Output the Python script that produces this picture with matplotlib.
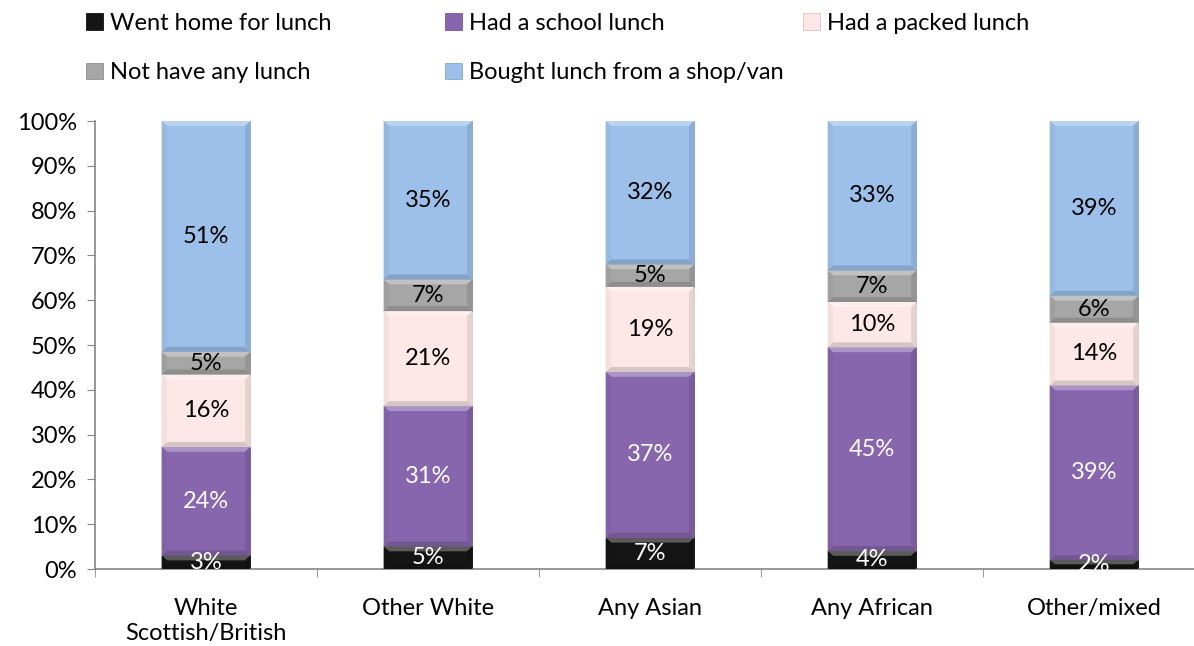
import matplotlib.pyplot as plt
import matplotlib.colors as mcolors
from matplotlib.patches import Polygon
import numpy as np

plt.rcParams['font.family'] = ['Lato', 'DejaVu Sans']

groups = ['White\nScottish/British', 'Other White', 'Any Asian', 'Any African', 'Other/mixed']
series = ['Went home for lunch', 'Had a school lunch', 'Had a packed lunch',
          'Not have any lunch', 'Bought lunch from a shop/van']
went_home = [3, 5, 7, 4, 2]
school = [24, 31, 37, 45, 39]
packed = [16, 21, 19, 10, 14]
no_lunch = [5, 7, 5, 7, 6]
shop = [51, 35, 32, 33, 39]

colors = ['#151515', '#8766ad', '#fde8e7', '#a6a6a6', '#9cc0ea']
text_colors = ['white', 'white', 'black', 'black', 'black']

data = np.array([went_home, school, packed, no_lunch, shop], dtype=float)
shares = data / data.sum(axis=0) * 100  # 100% stacked

fig = plt.figure(figsize=(11.94, 6.46), dpi=100)
ax = fig.add_axes([95 / 1194, 77 / 646, 1099 / 1194, 448 / 646])

x = np.arange(len(groups))
width = 0.4
bev_x = 0.024
bev_y = 1.1


def shade(c, f):
    r = np.array(mcolors.to_rgb(c))
    if f > 0:
        return tuple(r + (1 - r) * f)
    return tuple(r * (1 + f))


bottom = np.zeros(len(groups))
handles = []
for i in range(len(series)):
    bars = ax.bar(x, shares[i], width, bottom=bottom, color=colors[i],
                  edgecolor=shade(colors[i], -0.15), linewidth=0.6,
                  label=series[i], zorder=2)
    handles.append(bars)
    for j in range(len(groups)):
        x0, x1 = x[j] - width / 2, x[j] + width / 2
        y0, y1 = bottom[j], bottom[j] + shares[i][j]
        by = min(bev_y, (y1 - y0) / 2)
        bx = bev_x
        top = [(x0, y1), (x1, y1), (x1 - bx, y1 - by), (x0 + bx, y1 - by)]
        bot = [(x0, y0), (x1, y0), (x1 - bx, y0 + by), (x0 + bx, y0 + by)]
        left = [(x0, y0), (x0, y1), (x0 + bx, y1 - by), (x0 + bx, y0 + by)]
        right = [(x1, y0), (x1, y1), (x1 - bx, y1 - by), (x1 - bx, y0 + by)]
        ax.add_patch(Polygon(top, closed=True, color=shade(colors[i], 0.3), lw=0, zorder=3))
        ax.add_patch(Polygon(bot, closed=True, color=shade(colors[i], -0.15), lw=0, zorder=3))
        ax.add_patch(Polygon(left, closed=True, color=shade(colors[i], -0.04), lw=0, zorder=3))
        ax.add_patch(Polygon(right, closed=True, color=shade(colors[i], -0.1), lw=0, zorder=3))
        ax.text(x[j], (y0 + y1) / 2, '%d%%' % data[i][j], ha='center', va='center',
                fontsize=17, color=text_colors[i], zorder=5)
    bottom += shares[i]

ax.set_xlim(-0.5, 4.45)
ax.set_ylim(0, 100)
ax.set_yticks(np.arange(0, 101, 10))
ax.set_yticklabels(['%d%%' % v for v in range(0, 101, 10)], fontsize=17)
ax.set_xticks(x)
ax.set_xticklabels(groups, fontsize=17, linespacing=1.2)
ax.set_xticks(np.arange(-0.5, 4.5, 1), minor=True)
ax.tick_params(axis='x', which='major', length=0, pad=21)
ax.tick_params(axis='x', which='minor', length=6, color='#868686', direction='out')
ax.tick_params(axis='y', length=6, color='#868686', direction='out', pad=7)
for s in ['top', 'right']:
    ax.spines[s].set_visible(False)
for s in ['left', 'bottom']:
    ax.spines[s].set_color('#868686')
    ax.spines[s].set_linewidth(1.2)

cols = [[0, 3], [1, 4], [2]]
col_x = [86, 445, 803]
for c, cx in zip(cols, col_x):
    fig.legend([handles[k] for k in c], [series[k] for k in c],
               loc='upper left', bbox_to_anchor=(cx / 1194, 1 - 13 / 646),
               frameon=False, fontsize=17, handlelength=0.7, handleheight=0.7,
               handletextpad=0.3, labelspacing=1.2, borderpad=0, borderaxespad=0)

fig.savefig('out.png', dpi=100)
